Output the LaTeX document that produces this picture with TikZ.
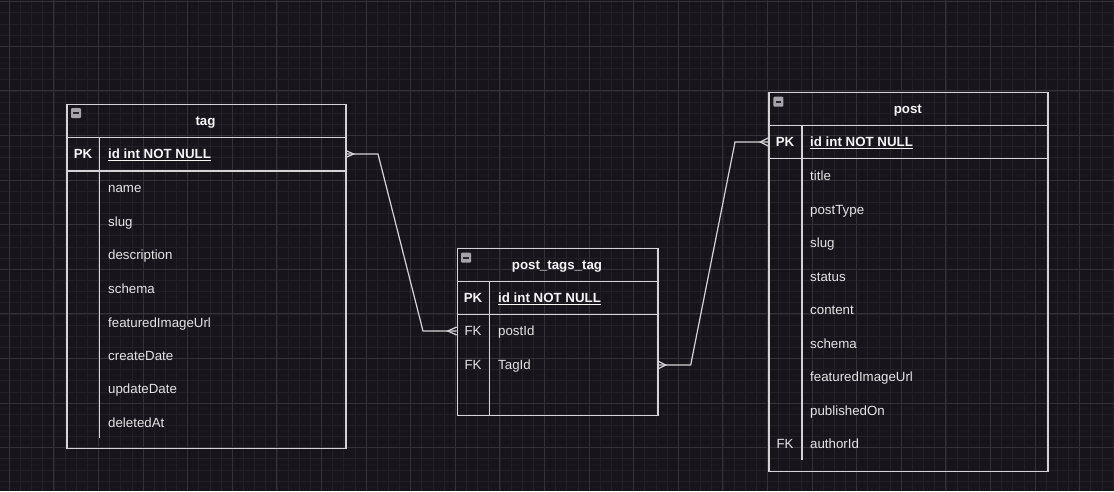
\documentclass[tikz,border=0pt]{standalone}
\usepackage{fontspec}
\setmainfont{Liberation Sans}
\definecolor{bg}{RGB}{23,21,27}
\definecolor{gridminor}{RGB}{34,32,39}
\definecolor{gridmajor}{RGB}{52,50,57}
\definecolor{edgec}{RGB}{212,212,214}
\definecolor{txtb}{RGB}{245,245,245}
\definecolor{txtn}{RGB}{228,228,228}
\definecolor{iconfill}{RGB}{165,165,170}
\definecolor{icondark}{RGB}{40,40,44}
\tikzset{
  tbl/.style={draw=edgec, line width=1.3pt, anchor=north west, inner sep=0pt},
  sep/.style={draw=edgec, line width=1.3pt},
  rowbox/.style={inner sep=0pt, anchor=west, minimum height=33pt},
  txtbase/.style={inner sep=0pt, text height=9.5pt, text depth=0pt},
  ttl/.style={txtbase, text=txtb, font=\fontsize{13.3}{15}\selectfont\bfseries},
  keyb/.style={txtbase, text=txtb, font=\fontsize{13.3}{15}\selectfont\bfseries},
  keyn/.style={txtbase, text=txtn, font=\fontsize{13.3}{15}\selectfont},
  fieldb/.style={txtbase, text=txtb, font=\fontsize{13.3}{15}\selectfont\bfseries, anchor=west},
  field/.style={txtbase, text=txtn, font=\fontsize{13.3}{15}\selectfont, anchor=west},
  conn/.style={draw=edgec, line width=1.2pt, line join=miter},
}
\newcommand{\collapseicon}[2]{%
  \fill[iconfill, rounded corners=1pt] (#1,#2) rectangle ++(10,10);
  \draw[icondark, line width=1.6pt] ({#1+2.2},{#2+5}) -- ++(5.6,0);
}
\begin{document}
\begin{tikzpicture}[x=1pt,y=-1pt]
\fill[bg] (0,0) rectangle (1114,491);
\useasboundingbox (0,0) rectangle (1114,491);
% grid
\foreach \i in {0,...,101} {
  \draw[gridminor, line width=0.8pt] ({-1.85+11.15*\i},0) -- ({-1.85+11.15*\i},491);
}
\foreach \i in {0,...,45} {
  \draw[gridminor, line width=0.8pt] (0,{-9.45+11.15*\i}) -- (1114,{-9.45+11.15*\i});
}
\foreach \i in {0,...,25} {
  \draw[gridmajor, line width=1pt] ({9.3+44.6*\i},0) -- ({9.3+44.6*\i},491);
}
\foreach \i in {0,...,11} {
  \draw[gridmajor, line width=1pt] (0,{1.7+44.6*\i}) -- (1114,{1.7+44.6*\i});
}

% ---------- tag ----------
\node[tbl, minimum width=279pt, minimum height=344pt] (tag) at (66.3,104) {};
\collapseicon{71}{108}
\node[ttl] (tagtitle) at (205.5,121) {tag};
\draw[sep] (66.3,137.3) -- (345.3,137.3);
\draw[sep] (66.3,171) -- (345.3,171);
\draw[sep] (99.7,137.3) -- (99.7,438);
\node[rowbox, minimum width=279pt] (tagPKrow) at (66.3,154) {};
\node[keyb] (tagpk) at (83,154) {PK};
\node[fieldb] (tagid) at (108,154) {\underline{id int NOT NULL}};
\node[field] (tagname) at (108,188) {name};
\node[field] (tagslug) at (108,221.5) {slug};
\node[field] (tagdesc) at (108,255) {description};
\node[field] (tagschema) at (108,288.5) {schema};
\node[field] (tagimg) at (108,322.5) {featuredImageUrl};
\node[field] (tagcreate) at (108,355.5) {createDate};
\node[field] (tagupdate) at (108,389) {updateDate};
\node[field] (tagdel) at (108,422.5) {deletedAt};

% ---------- post_tags_tag ----------
\node[tbl, minimum width=200.6pt, minimum height=167.3pt] (pt) at (456.7,247.7) {};
\collapseicon{461}{252.7}
\node[ttl] (pttitle) at (557,265) {post\_tags\_tag};
\draw[sep] (456.7,281.7) -- (657.3,281.7);
\draw[sep] (456.7,314.7) -- (657.3,314.7);
\draw[sep] (489.7,281.7) -- (489.7,415);
\node[rowbox, minimum width=200.6pt] (ptPostRow) at (456.7,331) {};
\node[rowbox, minimum width=200.6pt] (ptTagRow) at (456.7,365) {};
\node[keyb] (ptpk) at (473,298) {PK};
\node[fieldb] (ptid) at (498,298) {\underline{id int NOT NULL}};
\node[keyn] (ptfk1) at (473,331) {FK};
\node[field] (ptpost) at (498,331) {postId};
\node[keyn] (ptfk2) at (473,365) {FK};
\node[field] (pttag) at (498,365) {TagId};

% ---------- post ----------
\node[tbl, minimum width=279pt, minimum height=379pt] (post) at (768.3,91.7) {};
\collapseicon{773.3}{96.7}
\node[ttl] (posttitle) at (907.8,108.7) {post};
\draw[sep] (768.3,125.3) -- (1047.3,125.3);
\draw[sep] (768.3,158.3) -- (1047.3,158.3);
\draw[sep] (802,125.3) -- (802,459.5);
\node[rowbox, minimum width=279pt] (postPKrow) at (768.3,142) {};
\node[keyb] (postpk) at (785,142) {PK};
\node[fieldb] (postid) at (810,142) {\underline{id int NOT NULL}};
\node[field] (ptitle) at (810,176) {title};
\node[field] (ptype) at (810,209.5) {postType};
\node[field] (pslug) at (810,243) {slug};
\node[field] (pstatus) at (810,276.5) {status};
\node[field] (pcontent) at (810,310) {content};
\node[field] (pschema) at (810,343.5) {schema};
\node[field] (pimg) at (810,377) {featuredImageUrl};
\node[field] (ppub) at (810,410.5) {publishedOn};
\node[keyn] (pfk) at (785,444) {FK};
\node[field] (pauthor) at (810,444) {authorId};

% ---------- connectors ----------
\draw[conn] (tagPKrow.east) -- (378,154) -- (423,331) -- (ptPostRow.west);
\draw[conn] ([yshift=3.5pt]tagPKrow.east) -- ++(8,3.5) -- ++(-8,3.5);
\draw[conn] ([yshift=4pt]ptPostRow.west) -- ++(-9,4) -- ++(9,4);

\draw[conn] (ptTagRow.east) -- (690.7,365) -- (735,142) -- (postPKrow.west);
\draw[conn] ([yshift=4pt]ptTagRow.east) -- ++(8,4) -- ++(-8,4);
\draw[conn] ([yshift=4pt]postPKrow.west) -- ++(-8,4) -- ++(8,4);
\end{tikzpicture}
\end{document}
